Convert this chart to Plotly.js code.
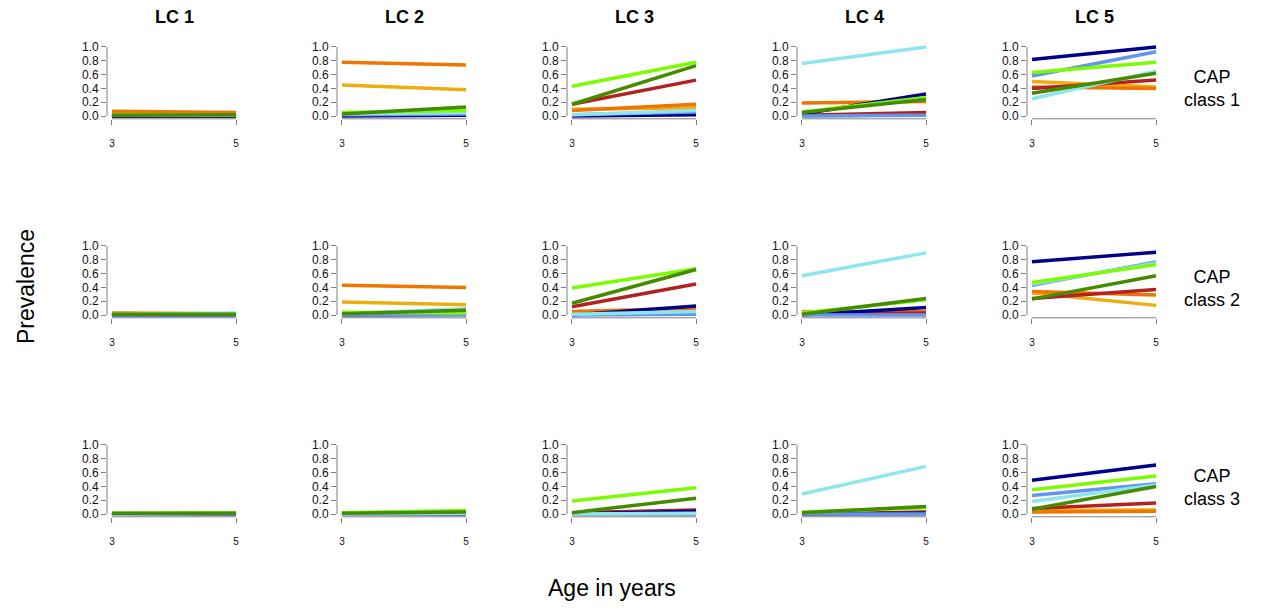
<!DOCTYPE html>
<html>
<head>
<meta charset="utf-8">
<script src="https://cdn.plot.ly/plotly-3.0.1.min.js"></script>
<style>html,body{margin:0;padding:0;background:#fff}#chart{width:1267px;height:609px}</style>
</head>
<body>
<div id="chart"></div>
<script>
// ---- data ----
const ages = [3, 5];
const ageTicks = [3, 5];
const prevTicks = [0, 0.2, 0.4, 0.6, 0.8, 1.0];
const prevTickLabels = ["0.0", "0.2", "0.4", "0.6", "0.8", "1.0"];
const lcLabels = ["LC 1", "LC 2", "LC 3", "LC 4", "LC 5"];
const capLabels = ["CAP<br>class 1", "CAP<br>class 2", "CAP<br>class 3"];
const seriesNames = ["S1", "S2", "S3", "S4", "S5", "S6", "S7", "S8"];

// each: rows = CAP class 1..3, cols = LC 1..5, pair = [age 3, age 5]
const s1 = [
  [[0.00,0.00],[0.00,0.01],[0.00,0.02],[0.03,0.32],[0.82,1.00]],
  [[0.00,0.00],[0.00,0.01],[0.00,0.13],[0.00,0.11],[0.77,0.91]],
  [[0.00,0.00],[0.00,0.00],[0.00,0.04],[0.00,0.01],[0.49,0.71]]
];
const s2 = [
  [[0.01,0.01],[0.02,0.03],[0.02,0.06],[0.00,0.01],[0.58,0.93]],
  [[0.00,0.00],[0.00,0.00],[0.00,0.01],[0.00,0.00],[0.43,0.77]],
  [[0.00,0.00],[0.00,0.00],[0.00,0.00],[0.00,0.00],[0.27,0.44]]
];
const s3 = [
  [[0.01,0.02],[0.03,0.05],[0.02,0.08],[0.76,1.00],[0.25,0.65]],
  [[0.01,0.03],[0.02,0.09],[0.01,0.05],[0.57,0.90],[0.45,0.75]],
  [[0.00,0.01],[0.00,0.01],[0.00,0.01],[0.29,0.69],[0.18,0.42]]
];
const s4 = [
  [[0.02,0.02],[0.05,0.08],[0.43,0.78],[0.06,0.27],[0.63,0.78]],
  [[0.01,0.01],[0.04,0.03],[0.39,0.67],[0.03,0.22],[0.47,0.73]],
  [[0.01,0.02],[0.02,0.05],[0.19,0.38],[0.03,0.09],[0.35,0.55]]
];
const s5 = [
  [[0.01,0.02],[0.03,0.13],[0.17,0.73],[0.05,0.24],[0.33,0.62]],
  [[0.01,0.01],[0.02,0.07],[0.17,0.66],[0.01,0.24],[0.23,0.57]],
  [[0.01,0.01],[0.01,0.03],[0.02,0.23],[0.02,0.11],[0.07,0.40]]
];
const s6 = [
  [[0.00,0.00],[0.01,0.01],[0.17,0.52],[0.01,0.05],[0.40,0.52]],
  [[0.00,0.00],[0.00,0.02],[0.12,0.45],[0.01,0.03],[0.24,0.37]],
  [[0.00,0.00],[0.00,0.00],[0.02,0.06],[0.00,0.03],[0.08,0.16]]
];
const s7 = [
  [[0.07,0.05],[0.78,0.74],[0.08,0.17],[0.19,0.21],[0.42,0.40]],
  [[0.03,0.02],[0.43,0.40],[0.05,0.10],[0.04,0.05],[0.34,0.29]],
  [[0.00,0.00],[0.00,0.00],[0.01,0.02],[0.00,0.00],[0.03,0.04]]
];
const s8 = [
  [[0.04,0.04],[0.45,0.38],[0.10,0.12],[0.00,0.02],[0.50,0.42]],
  [[0.01,0.01],[0.19,0.15],[0.03,0.08],[0.05,0.03],[0.32,0.14]],
  [[0.00,0.00],[0.00,0.01],[0.00,0.00],[0.00,0.00],[0.05,0.06]]
];
const allSeries = [s1, s2, s3, s4, s5, s6, s7, s8];

// ---- styles ----
const colors = ["#00008B", "#6495ED", "#8EE5EE", "#7CFC00", "#458B00", "#B22222", "#EE7600", "#EEAD0E"];
const drawOrder = [7, 6, 5, 0, 1, 2, 3, 4];
const W = 1267, H = 609;
const axisGray = "#808080";
const font = "Liberation Sans, Arial, sans-serif";

const traces = [];
const layout = {
  width: W, height: H,
  margin: {l: 0, r: 0, t: 0, b: 0},
  paper_bgcolor: "#fff", plot_bgcolor: "#fff",
  showlegend: false,
  font: {family: font, color: "#000"},
  shapes: [], annotations: []
};

for (let r = 0; r < 3; r++) {
  for (let c = 0; c < 5; c++) {
    const i = r * 5 + c + 1;
    const xk = i === 1 ? "xaxis" : "xaxis" + i;
    const yk = i === 1 ? "yaxis" : "yaxis" + i;
    const xr = i === 1 ? "x" : "x" + i;
    const yr = i === 1 ? "y" : "y" + i;
    const left = 107 + 230 * c, right = 241 + 230 * c;
    const top = 44.2 + 199 * r, bottom = 118.8 + 199 * r;
    layout[xk] = {
      domain: [left / W, right / W], anchor: yr,
      range: [2.92, 5.08], showgrid: false, zeroline: false, showline: false,
      tickvals: ageTicks, ticktext: ageTicks.map(String),
      ticks: "outside", ticklen: 5, tickcolor: axisGray, tickwidth: 1,
      ticklabelstandoff: 10,
      tickfont: {size: 10, family: font, color: "#111"}, fixedrange: true
    };
    layout[yk] = {
      domain: [1 - bottom / H, 1 - top / H], anchor: xr,
      range: [-0.04, 1.04], showgrid: false, zeroline: false, showline: false,
      tickvals: prevTicks, ticktext: prevTickLabels,
      ticks: "outside", ticklen: 5, tickcolor: axisGray, tickwidth: 1,
      tickfont: {size: 12, family: font, color: "#111"}, fixedrange: true
    };
    layout.shapes.push({type: "line", xref: xr + " domain", yref: yr, x0: 0, x1: 0, y0: 0, y1: 1,
      line: {color: axisGray, width: 1}});
    layout.shapes.push({type: "line", xref: xr, yref: yr + " domain", x0: 3, x1: 5, y0: 0, y1: 0,
      line: {color: axisGray, width: 1}});
    drawOrder.forEach(k => {
      traces.push({
        type: "scatter", mode: "lines", x: ages, y: allSeries[k][r][c],
        xaxis: xr, yaxis: yr, name: seriesNames[k],
        line: {color: colors[k], width: 3.5}, hoverinfo: "skip"
      });
    });
  }
}

lcLabels.forEach((t, c) => {
  layout.annotations.push({text: "<b>" + t + "</b>", xref: "paper", yref: "paper",
    x: (174 + 230 * c) / W, y: 1 - 17 / H, xanchor: "center", yanchor: "middle",
    showarrow: false, font: {size: 18, family: font, color: "#000"}});
});
capLabels.forEach((t, r) => {
  layout.annotations.push({text: t, xref: "paper", yref: "paper",
    x: 1212 / W, y: 1 - (89 + 199 * r) / H, xanchor: "center", yanchor: "middle",
    showarrow: false, font: {size: 18, family: font, color: "#000"}});
});
layout.annotations.push({text: "Prevalence", xref: "paper", yref: "paper",
  x: 26 / W, y: 1 - 287 / H, xanchor: "center", yanchor: "middle", textangle: -90,
  showarrow: false, font: {size: 23, family: font, color: "#000"}});
layout.annotations.push({text: "Age in years", xref: "paper", yref: "paper",
  x: 612 / W, y: 1 - 588 / H, xanchor: "center", yanchor: "middle",
  showarrow: false, font: {size: 23, family: font, color: "#000"}});

Plotly.newPlot("chart", traces, layout, {displayModeBar: false, staticPlot: true});
</script>
</body>
</html>
